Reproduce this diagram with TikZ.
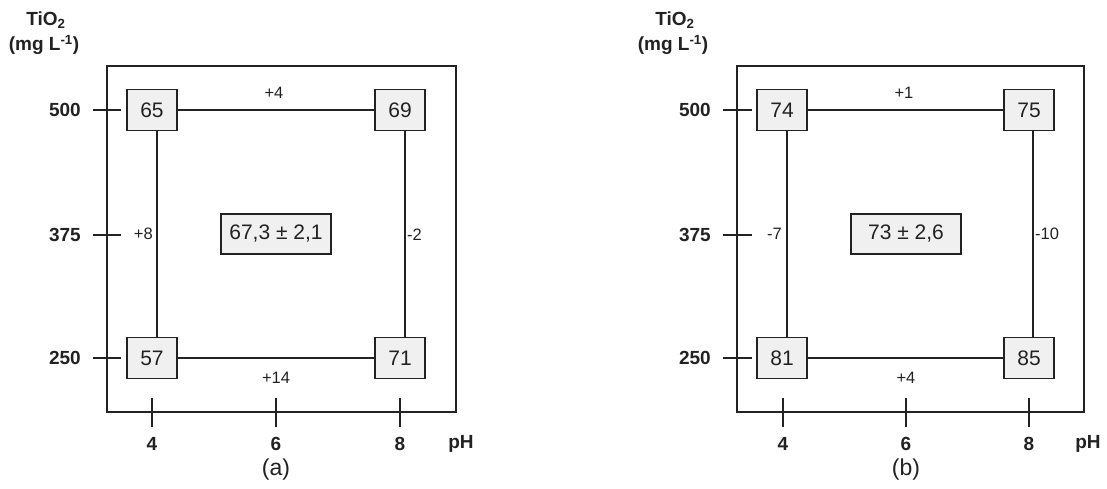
\documentclass[tikz,border=0pt]{standalone}
\usepackage{fontspec}
\setmainfont{Liberation Sans}
\definecolor{boxfill}{HTML}{F0F0F0}
\definecolor{ink}{HTML}{222222}
\begin{document}
\begin{tikzpicture}[x=1pt,y=-1pt,
  frame/.style={draw=ink,line width=1.5pt},
  valbox/.style={draw=ink,line width=1.4pt,fill=boxfill,minimum width=50pt,minimum height=41pt,inner sep=0pt,font=\fontsize{21}{24}\selectfont,text=ink},
  meanbox/.style={draw=ink,line width=1.4pt,fill=boxfill,minimum width=110pt,minimum height=40pt,inner sep=0pt,font=\fontsize{21}{24}\selectfont,text=ink},
  conn/.style={draw=ink,line width=1.4pt},
  tick/.style={draw=ink,line width=1.4pt},
  elabel/.style={font=\fontsize{16.5}{19}\selectfont,text=ink,inner sep=1pt},
  axlabel/.style={font=\bfseries\fontsize{19}{22}\selectfont,text=ink,inner sep=0pt},
  caplabel/.style={font=\fontsize{23}{26}\selectfont,text=ink,inner sep=0pt}]
\useasboundingbox (0,0) rectangle (1107,488);

% ---------------- panel (a) ----------------
\draw[frame] (107,66) rectangle (456,412);
\node[valbox] (a65) at (152,110) {65};
\node[valbox] (a69) at (400,110) {69};
\node[valbox] (a57) at (152,358) {57};
\node[valbox] (a71) at (400,358) {71};
\node[meanbox] (amean) at (276,234) {67,3 ± 2,1};
\draw[conn] (a65) -- (a69);
\draw[conn] (a57) -- (a71);
\draw[conn] ([xshift=5pt]a65.south) -- ([xshift=5pt]a57.north);
\draw[conn] ([xshift=5pt]a69.south) -- ([xshift=5pt]a71.north);
\node[elabel] (atop) at (274,93) {+4};
\node[elabel] (abot) at (276,378) {+14};
\node[elabel,anchor=east] (aleft) at (154,234) {+8};
\node[elabel,anchor=west] (aright) at (406,235) {-2};
% y axis
\foreach \y/\t [count=\i] in {110/500,235/375,358/250}{
  \draw[tick] (93,\y) -- (121,\y);
  \node[axlabel,anchor=east] (ay\i) at (81,\y) {\t};
}
% x axis
\foreach \x/\t [count=\i] in {152/4,276/6,400/8}{
  \draw[tick] (\x,398) -- (\x,427);
  \node[axlabel] (ax\i) at (\x,444) {\t};
}
\node[axlabel] (aph) at (461,444) {pH};
\node[axlabel] (atio) at (46,20) {TiO\textsubscript{2}};
\node[axlabel] (aunit) at (44,45) {(mg L\textsuperscript{-1})};
\node[caplabel] (acap) at (276,470) {(a)};

% ---------------- panel (b) ----------------
\draw[frame] (737,66) rectangle (1084,412);
\node[valbox] (b74) at (782,110) {74};
\node[valbox] (b75) at (1029,110) {75};
\node[valbox] (b81) at (782,358) {81};
\node[valbox] (b85) at (1029,358) {85};
\node[meanbox] (bmean) at (906,234) {73 ± 2,6};
\draw[conn] (b74) -- (b75);
\draw[conn] (b81) -- (b85);
\draw[conn] ([xshift=5pt]b74.south) -- ([xshift=5pt]b81.north);
\draw[conn] ([xshift=4pt]b75.south) -- ([xshift=4pt]b85.north);
\node[elabel] (btop) at (904,93) {+1};
\node[elabel] (bbot) at (906,378) {+4};
\node[elabel,anchor=east] (bleft) at (783,234) {-7};
\node[elabel,anchor=west] (bright) at (1034,234) {-10};
\foreach \y/\t [count=\i] in {110/500,235/375,358/250}{
  \draw[tick] (723,\y) -- (752,\y);
  \node[axlabel,anchor=east] (by\i) at (711,\y) {\t};
}
\foreach \x/\t [count=\i] in {783/4,906/6,1029/8}{
  \draw[tick] (\x,398) -- (\x,427);
  \node[axlabel] (bx\i) at (\x,444) {\t};
}
\node[axlabel] (bph) at (1088,444) {pH};
\node[axlabel] (btio) at (675,20) {TiO\textsubscript{2}};
\node[axlabel] (bunit) at (673,45) {(mg L\textsuperscript{-1})};
\node[caplabel] (bcap) at (906,470) {(b)};
\end{tikzpicture}
\end{document}
